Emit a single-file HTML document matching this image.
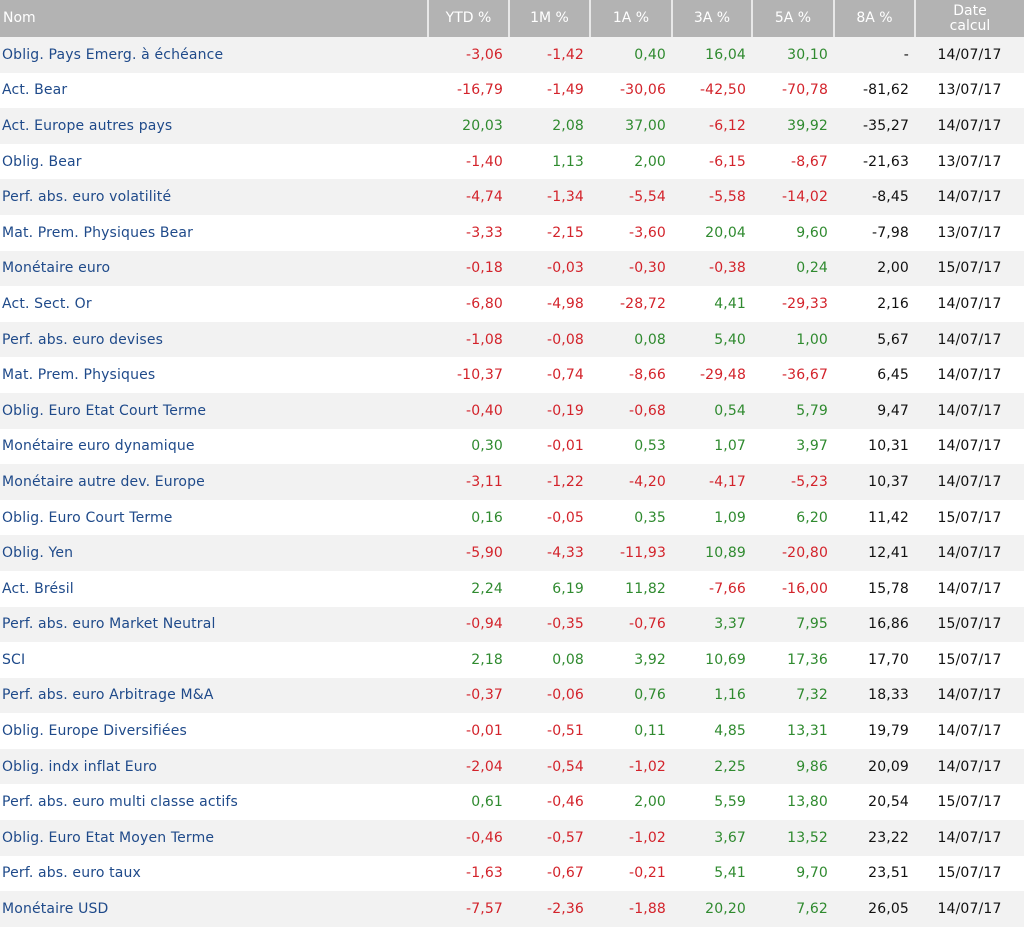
<!DOCTYPE html>
<html><head><meta charset="utf-8"><style>
body{margin:0;width:1024px;height:923px;overflow:hidden;background:#fff;font-family:"DejaVu Sans","Liberation Sans",sans-serif;}
table{border-collapse:collapse;table-layout:fixed;width:1024px;font-size:14px;letter-spacing:0.15px}
th{background:#b3b3b3;color:#fff;font-weight:normal;height:37px;padding:0;border-left:2px solid #e8e8e8;line-height:15px;font-size:14px;letter-spacing:0}
th:first-child{border-left:none;text-align:left;padding-left:3px}
td{height:35.6px;padding:0 6px 0 0;text-align:right;color:#111}
td:first-child{text-align:left;padding-left:2px;color:#1f4a8a}
tr:nth-child(even) td{background:#f2f2f2}
.r{color:#d3232b}.g{color:#2f8a2f}
td:last-child{text-align:center;padding:0}
</style></head><body>
<table>
<colgroup><col style="width:428px"><col style="width:81px"><col style="width:81px"><col style="width:82px"><col style="width:80px"><col style="width:82px"><col style="width:81px"><col style="width:109px"></colgroup>
<tr><th>Nom</th><th>YTD %</th><th>1M %</th><th>1A %</th><th>3A %</th><th>5A %</th><th>8A %</th><th>Date<br>calcul</th></tr>
<tr><td>Oblig. Pays Emerg. à échéance</td><td class="r">-3,06</td><td class="r">-1,42</td><td class="g">0,40</td><td class="g">16,04</td><td class="g">30,10</td><td>-</td><td>14/07/17</td></tr>
<tr><td>Act. Bear</td><td class="r">-16,79</td><td class="r">-1,49</td><td class="r">-30,06</td><td class="r">-42,50</td><td class="r">-70,78</td><td>-81,62</td><td>13/07/17</td></tr>
<tr><td>Act. Europe autres pays</td><td class="g">20,03</td><td class="g">2,08</td><td class="g">37,00</td><td class="r">-6,12</td><td class="g">39,92</td><td>-35,27</td><td>14/07/17</td></tr>
<tr><td>Oblig. Bear</td><td class="r">-1,40</td><td class="g">1,13</td><td class="g">2,00</td><td class="r">-6,15</td><td class="r">-8,67</td><td>-21,63</td><td>13/07/17</td></tr>
<tr><td>Perf. abs. euro volatilité</td><td class="r">-4,74</td><td class="r">-1,34</td><td class="r">-5,54</td><td class="r">-5,58</td><td class="r">-14,02</td><td>-8,45</td><td>14/07/17</td></tr>
<tr><td>Mat. Prem. Physiques Bear</td><td class="r">-3,33</td><td class="r">-2,15</td><td class="r">-3,60</td><td class="g">20,04</td><td class="g">9,60</td><td>-7,98</td><td>13/07/17</td></tr>
<tr><td>Monétaire euro</td><td class="r">-0,18</td><td class="r">-0,03</td><td class="r">-0,30</td><td class="r">-0,38</td><td class="g">0,24</td><td>2,00</td><td>15/07/17</td></tr>
<tr><td>Act. Sect. Or</td><td class="r">-6,80</td><td class="r">-4,98</td><td class="r">-28,72</td><td class="g">4,41</td><td class="r">-29,33</td><td>2,16</td><td>14/07/17</td></tr>
<tr><td>Perf. abs. euro devises</td><td class="r">-1,08</td><td class="r">-0,08</td><td class="g">0,08</td><td class="g">5,40</td><td class="g">1,00</td><td>5,67</td><td>14/07/17</td></tr>
<tr><td>Mat. Prem. Physiques</td><td class="r">-10,37</td><td class="r">-0,74</td><td class="r">-8,66</td><td class="r">-29,48</td><td class="r">-36,67</td><td>6,45</td><td>14/07/17</td></tr>
<tr><td>Oblig. Euro Etat Court Terme</td><td class="r">-0,40</td><td class="r">-0,19</td><td class="r">-0,68</td><td class="g">0,54</td><td class="g">5,79</td><td>9,47</td><td>14/07/17</td></tr>
<tr><td>Monétaire euro dynamique</td><td class="g">0,30</td><td class="r">-0,01</td><td class="g">0,53</td><td class="g">1,07</td><td class="g">3,97</td><td>10,31</td><td>14/07/17</td></tr>
<tr><td>Monétaire autre dev. Europe</td><td class="r">-3,11</td><td class="r">-1,22</td><td class="r">-4,20</td><td class="r">-4,17</td><td class="r">-5,23</td><td>10,37</td><td>14/07/17</td></tr>
<tr><td>Oblig. Euro Court Terme</td><td class="g">0,16</td><td class="r">-0,05</td><td class="g">0,35</td><td class="g">1,09</td><td class="g">6,20</td><td>11,42</td><td>15/07/17</td></tr>
<tr><td>Oblig. Yen</td><td class="r">-5,90</td><td class="r">-4,33</td><td class="r">-11,93</td><td class="g">10,89</td><td class="r">-20,80</td><td>12,41</td><td>14/07/17</td></tr>
<tr><td>Act. Brésil</td><td class="g">2,24</td><td class="g">6,19</td><td class="g">11,82</td><td class="r">-7,66</td><td class="r">-16,00</td><td>15,78</td><td>14/07/17</td></tr>
<tr><td>Perf. abs. euro Market Neutral</td><td class="r">-0,94</td><td class="r">-0,35</td><td class="r">-0,76</td><td class="g">3,37</td><td class="g">7,95</td><td>16,86</td><td>15/07/17</td></tr>
<tr><td>SCI</td><td class="g">2,18</td><td class="g">0,08</td><td class="g">3,92</td><td class="g">10,69</td><td class="g">17,36</td><td>17,70</td><td>15/07/17</td></tr>
<tr><td>Perf. abs. euro Arbitrage M&amp;A</td><td class="r">-0,37</td><td class="r">-0,06</td><td class="g">0,76</td><td class="g">1,16</td><td class="g">7,32</td><td>18,33</td><td>14/07/17</td></tr>
<tr><td>Oblig. Europe Diversifiées</td><td class="r">-0,01</td><td class="r">-0,51</td><td class="g">0,11</td><td class="g">4,85</td><td class="g">13,31</td><td>19,79</td><td>14/07/17</td></tr>
<tr><td>Oblig. indx inflat Euro</td><td class="r">-2,04</td><td class="r">-0,54</td><td class="r">-1,02</td><td class="g">2,25</td><td class="g">9,86</td><td>20,09</td><td>14/07/17</td></tr>
<tr><td>Perf. abs. euro multi classe actifs</td><td class="g">0,61</td><td class="r">-0,46</td><td class="g">2,00</td><td class="g">5,59</td><td class="g">13,80</td><td>20,54</td><td>15/07/17</td></tr>
<tr><td>Oblig. Euro Etat Moyen Terme</td><td class="r">-0,46</td><td class="r">-0,57</td><td class="r">-1,02</td><td class="g">3,67</td><td class="g">13,52</td><td>23,22</td><td>14/07/17</td></tr>
<tr><td>Perf. abs. euro taux</td><td class="r">-1,63</td><td class="r">-0,67</td><td class="r">-0,21</td><td class="g">5,41</td><td class="g">9,70</td><td>23,51</td><td>15/07/17</td></tr>
<tr><td>Monétaire USD</td><td class="r">-7,57</td><td class="r">-2,36</td><td class="r">-1,88</td><td class="g">20,20</td><td class="g">7,62</td><td>26,05</td><td>14/07/17</td></tr>
</table>
</body></html>
